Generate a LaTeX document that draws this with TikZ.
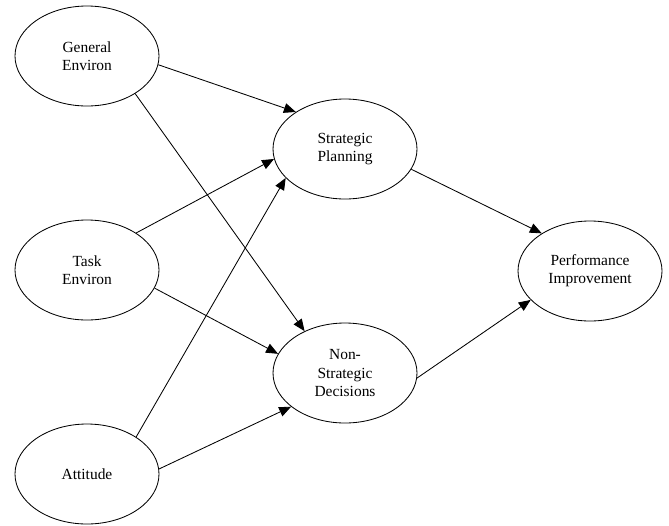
\documentclass[tikz,border=0pt]{standalone}
\usepackage{fontspec}
\setmainfont{Liberation Serif}
\usepackage{tikz}
\usetikzlibrary{shapes.geometric,arrows.meta,positioning}

\begin{document}
\begin{tikzpicture}[
        factor/.style={ellipse, draw=black, semithick, minimum width=3.6cm, minimum height=2.5cm, inner sep=0pt, align=center, font=\fontsize{11}{13}\selectfont},
        link/.style={-{Triangle[length=8.5pt,width=7pt]}, semithick},
    ]
        \useasboundingbox (0,0) rectangle (16.725,-13.125);

        % Antecedents
        \node[factor] (gen) at (2.175,-1.4) {General\\Environ};
        \node[factor] (task) at (2.175,-6.75) {Task\\Environ};
        \node[factor] (att) at (2.175,-11.85) {Attitude};

        % Mediators
        \node[factor] (plan) at (8.625,-3.725) {Strategic\\Planning};
        \node[factor] (nsd) at (8.625,-9.325) {Non-\\Strategic\\Decisions};

        % Outcome
        \node[factor] (perf) at (14.75,-6.775) {Performance\\Improvement};

        % Arrows
        \draw[link] (gen.-7) -- (plan.143);
        \draw[link] (gen.-38) -- (nsd.134);
        \draw[link] (task.37) -- (plan.-172);
        \draw[link] (task.-15) -- (nsd.164);
        \draw[link] (att.37) -- (plan.206);
        \draw[link] (att.4) -- (nsd.212);
        \draw[link] (plan.-17) -- (perf.142);
        \draw[link] (nsd.-4) -- (perf.206);

    \end{tikzpicture}
\end{document}
